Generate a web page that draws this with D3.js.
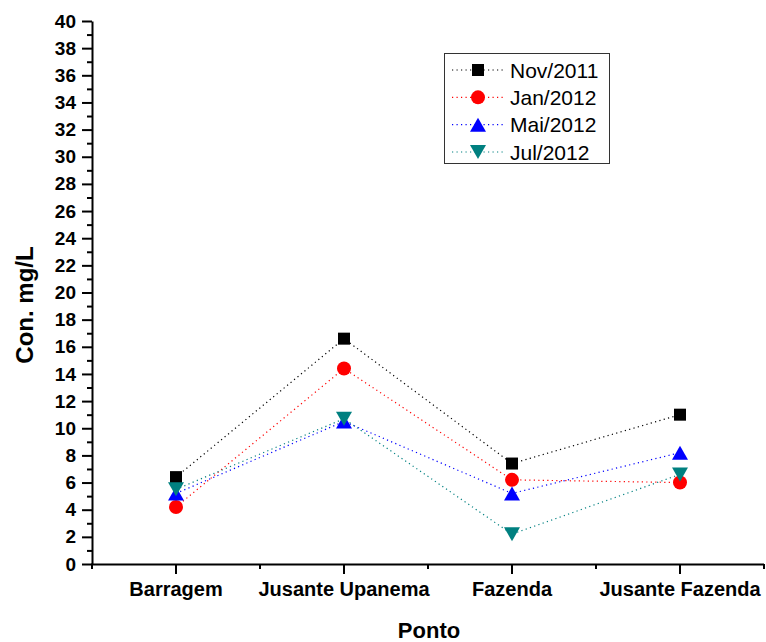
<!DOCTYPE html>
<html>
<head>
<meta charset="utf-8">
<script src="https://cdn.jsdelivr.net/npm/d3@7"></script>
<style>
  html, body { margin: 0; padding: 0; background: #fff; }
  svg { display: block; font-family: "Liberation Sans", Arial, Helvetica, sans-serif; }
</style>
</head>
<body>
<svg id="chart" width="766" height="642"></svg>
<script>
// Sampling points along the river
const categories = ["Barragem", "Jusante Upanema", "Fazenda", "Jusante Fazenda"];

// Concentration (mg/L) per campaign
const seriesNames = ["Nov/2011", "Jan/2012", "Mai/2012", "Jul/2012"];
const nov2011 = [6.4, 16.6, 7.4, 11.0];
const jan2012 = [4.2, 14.4, 6.2, 6.0];
const mai2012 = [5.2, 10.5, 5.2, 8.2];
const jul2012 = [5.5, 10.7, 2.2, 6.6];

// Y axis labelled ticks and minor ticks
const yMajorTicks = d3.range(0, 41, 2);
const yMinorTicks = d3.range(1, 40, 2);

const seriesValues = [nov2011, jan2012, mai2012, jul2012];
const seriesColors = ["#000000", "#ff0000", "#0000ff", "#008080"];
const seriesShapes = ["square", "circle", "triangleUp", "triangleDown"];

const svg = d3.select("#chart");
const plot = { left: 92, right: 764, top: 21, bottom: 564 };

const x = d3.scaleBand().domain(categories).range([plot.left, plot.right]).paddingInner(0).paddingOuter(0);
const y = d3.scaleLinear().domain([0, 40]).range([plot.bottom, plot.top]);
const cx = d => x(d) + x.bandwidth() / 2;

// Marker path generator centred on (0,0)
function markerPath(shape) {
  switch (shape) {
    case "square": return "M-6,-6H6V6H-6Z";
    case "circle": return d3.symbol(d3.symbolCircle, Math.PI * 7 * 7)();
    case "triangleUp": return "M0,-7L8,7L-8,7Z";
    case "triangleDown": return "M0,7L8,-7L-8,-7Z";
  }
}

// ---- Axes ----
const axisG = svg.append("g");

// Y axis: major ticks with labels
const yAxis = d3.axisLeft(y).tickValues(yMajorTicks).tickSize(10).tickPadding(6).tickSizeOuter(0);
const yg = axisG.append("g").attr("transform", `translate(${plot.left},0)`).call(yAxis);
yg.select(".domain").attr("stroke", "#000").attr("stroke-width", 2);
yg.selectAll(".tick line").attr("stroke", "#000").attr("stroke-width", 2);
yg.selectAll(".tick text")
  .attr("font-size", 19).attr("font-weight", "bold").attr("fill", "#000")
  .attr("font-family", "Liberation Sans, Arial, sans-serif");

// Y axis minor ticks
const yMinor = d3.axisLeft(y).tickValues(yMinorTicks).tickSize(5).tickFormat("").tickSizeOuter(0);
const ymg = axisG.append("g").attr("transform", `translate(${plot.left},0)`).call(yMinor);
ymg.select(".domain").remove();
ymg.selectAll(".tick line").attr("stroke", "#000").attr("stroke-width", 2);

// X axis: major ticks at category centres
const xAxis = d3.axisBottom(x).tickSize(10).tickPadding(8).tickSizeOuter(0);
const xg = axisG.append("g").attr("transform", `translate(0,${plot.bottom})`).call(xAxis);
xg.select(".domain").attr("stroke", "#000").attr("stroke-width", 2).attr("d", `M${plot.left - 1},0.5H${plot.right}`);
xg.selectAll(".tick line").attr("stroke", "#000").attr("stroke-width", 2);
xg.selectAll(".tick text")
  .attr("font-size", 20).attr("font-weight", "bold").attr("fill", "#000")
  .attr("font-family", "Liberation Sans, Arial, sans-serif");

// X axis minor ticks at category boundaries
const xBounds = categories.map(c => x(c)).concat([plot.right]);
axisG.append("g").selectAll("line").data(xBounds).join("line")
  .attr("x1", d => d).attr("x2", d => d)
  .attr("y1", plot.bottom).attr("y2", plot.bottom + 5)
  .attr("stroke", "#000").attr("stroke-width", 2);

// Axis titles
svg.append("text")
  .attr("x", (plot.left + plot.right) / 2 + 1).attr("y", 638)
  .attr("text-anchor", "middle")
  .attr("font-size", 22).attr("font-weight", "bold")
  .text("Ponto");

svg.append("text")
  .attr("transform", `translate(33,${305}) rotate(-90)`)
  .attr("text-anchor", "middle")
  .attr("font-size", 24).attr("font-weight", "bold")
  .text("Con. mg/L");

// ---- Series lines ----
const line = d3.line().x((d, i) => cx(categories[i])).y(d => y(d));
const seriesG = svg.append("g");
seriesValues.forEach((vals, k) => {
  seriesG.append("path")
    .datum(vals)
    .attr("d", line)
    .attr("fill", "none")
    .attr("stroke", seriesColors[k])
    .attr("stroke-width", 1.2)
    .attr("stroke-dasharray", "1.2,3.3");
});

// ---- Markers ----
seriesValues.forEach((vals, k) => {
  seriesG.append("g").selectAll("path")
    .data(vals).join("path")
    .attr("transform", (d, i) => `translate(${cx(categories[i])},${y(d)})`)
    .attr("d", markerPath(seriesShapes[k]))
    .attr("fill", seriesColors[k]);
});

// ---- Legend ----
const legend = svg.append("g");
const legendBox = { x: 444, y: 53, w: 165, h: 110 };
legend.append("rect")
  .attr("x", legendBox.x + 0.5).attr("y", legendBox.y + 0.5)
  .attr("width", legendBox.w).attr("height", legendBox.h)
  .attr("fill", "#fff").attr("stroke", "#333").attr("stroke-width", 1);

const rowY = d3.scalePoint().domain(seriesNames).range([70, 152]);
seriesNames.forEach((name, k) => {
  const ry = rowY(name);
  legend.append("line")
    .attr("x1", 452).attr("x2", 504).attr("y1", ry).attr("y2", ry)
    .attr("stroke", seriesColors[k]).attr("stroke-width", 1.2)
    .attr("stroke-dasharray", "1.2,3.3");
  legend.append("path")
    .attr("transform", `translate(478,${ry})`)
    .attr("d", markerPath(seriesShapes[k]))
    .attr("fill", seriesColors[k]);
  legend.append("text")
    .attr("x", 510).attr("y", ry + 7.5)
    .attr("font-size", 21)
    .attr("fill", "#000")
    .text(name);
});
</script>
</body>
</html>
